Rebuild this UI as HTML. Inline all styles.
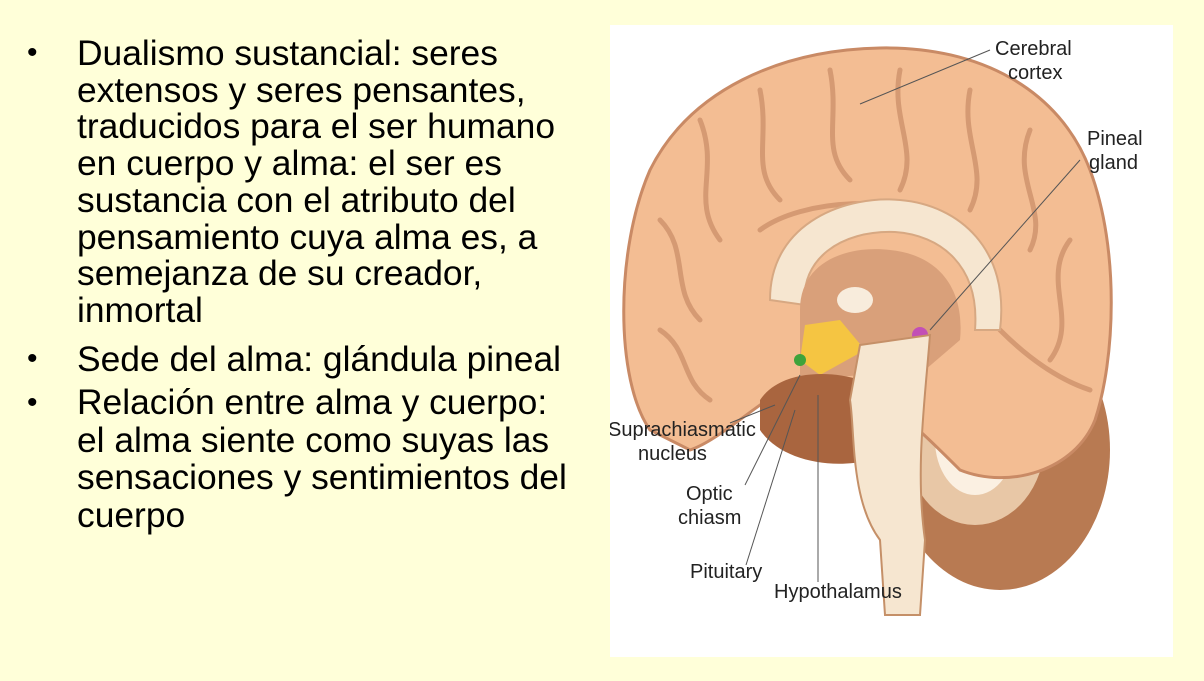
<!DOCTYPE html>
<html><head><meta charset="utf-8"><style>
html,body{margin:0;padding:0}
body{width:1204px;height:681px;background:#ffffd9;position:relative;overflow:hidden;font-family:"Liberation Sans",Arial,sans-serif}
ul{position:absolute;left:0;top:35px;margin:0;padding:0;list-style:none;font-size:35.4px;line-height:36.7px;color:#000;white-space:nowrap}
li{position:relative;padding-left:77px}
li:before{content:"•";position:absolute;left:27px;top:0;font-size:30px}
li.b{margin-top:12px}
li.c{margin-top:7px;line-height:37.5px}
.img{position:absolute;left:610px;top:25px;width:563px;height:632px;background:#fff}
svg text{font-family:"Liberation Sans",Arial,sans-serif;font-size:20px;fill:#222}
</style></head><body>
<ul>
<li>Dualismo sustancial: seres<br>extensos y seres pensantes,<br>traducidos para el ser humano<br>en cuerpo y alma: el ser es<br>sustancia con el atributo del<br>pensamiento cuya alma es, a<br>semejanza de su creador,<br>inmortal</li>
<li class="b">Sede del alma: glándula pineal</li>
<li class="c">Relación entre alma y cuerpo:<br>el alma siente como suyas las<br>sensaciones y sentimientos del<br>cuerpo</li>
</ul>
<div class="img">
<svg width="563" height="632" viewBox="610 25 563 632" xmlns="http://www.w3.org/2000/svg">
<ellipse cx="1000" cy="450" rx="110" ry="140" fill="#b87a52"/>
<ellipse cx="975" cy="440" rx="70" ry="85" fill="#e8c7a6"/>
<ellipse cx="975" cy="440" rx="40" ry="55" fill="#fbf0e2"/>
<path d="M650,430 C615,380 615,250 650,170 C690,90 780,50 880,48 C980,46 1060,90 1090,170 C1120,250 1115,360 1095,420 C1075,470 1010,490 960,470 C930,440 910,420 880,400 L800,380 C760,400 720,440 690,450 Z" fill="#f3bd93" stroke="#c98a65" stroke-width="3"/>
<g fill="none" stroke="#d59a73" stroke-width="5" stroke-linecap="round">
<path d="M700,120 C720,170 690,200 720,240"/><path d="M760,90 C770,140 750,170 780,200"/>
<path d="M830,70 C840,120 820,150 850,180"/><path d="M900,70 C890,120 920,150 900,190"/>
<path d="M970,90 C960,140 990,170 970,210"/><path d="M1030,130 C1010,180 1050,210 1030,250"/>
<path d="M660,220 C690,250 670,290 700,320"/><path d="M1070,240 C1040,280 1080,320 1050,360"/>
<path d="M660,330 C690,350 680,380 710,400"/><path d="M1000,330 C1030,360 1060,380 1090,390"/>
<path d="M760,230 C800,200 900,190 960,230"/>
</g>
<path d="M770,300 C770,220 850,195 900,200 C960,205 1010,250 1000,330 L975,330 C980,265 940,235 895,232 C840,230 800,260 805,305 Z" fill="#f6e6d0" stroke="#d7a882" stroke-width="2"/>
<path d="M800,310 C800,260 850,245 890,250 C940,255 965,290 960,340 L925,370 L800,380 Z" fill="#d9a07a"/>
<ellipse cx="855" cy="300" rx="18" ry="13" fill="#f8ecdc"/>
<path d="M805,325 L840,320 L865,350 L820,375 L800,360 Z" fill="#f5c542"/>
<path d="M795,380 L805,400 L795,420 L785,410 Z" fill="#f5c542"/>
<circle cx="800" cy="360" r="6" fill="#3ea33b"/>
<circle cx="920" cy="335" r="8" fill="#c24fb6"/>
<path d="M760,400 C780,370 830,370 860,380 L870,460 C830,470 780,460 760,430 Z" fill="#a9653f"/>
<path d="M860,345 L930,335 C925,400 915,470 925,540 L920,615 L885,615 L880,540 C850,500 855,430 850,400 Z" fill="#f6e6d0" stroke="#c59068" stroke-width="2"/>
<text x="995" y="55">Cerebral</text><text x="1008" y="79">cortex</text>
<text x="1087" y="145">Pineal</text><text x="1089" y="169">gland</text>
<text x="608" y="436">Suprachiasmatic</text><text x="638" y="460">nucleus</text>
<text x="686" y="500">Optic</text><text x="678" y="524">chiasm</text>
<text x="690" y="578">Pituitary</text>
<text x="774" y="598">Hypothalamus</text>
<g stroke="#555" stroke-width="1" fill="none">
<line x1="860" y1="104" x2="990" y2="50"/>
<line x1="1080" y1="160" x2="930" y2="330"/>
<line x1="730" y1="423" x2="775" y2="405"/>
<line x1="745" y1="485" x2="800" y2="375"/>
<line x1="746" y1="565" x2="795" y2="410"/>
<line x1="818" y1="582" x2="818" y2="395"/>
</g>
</svg>
</div>
</body></html>
